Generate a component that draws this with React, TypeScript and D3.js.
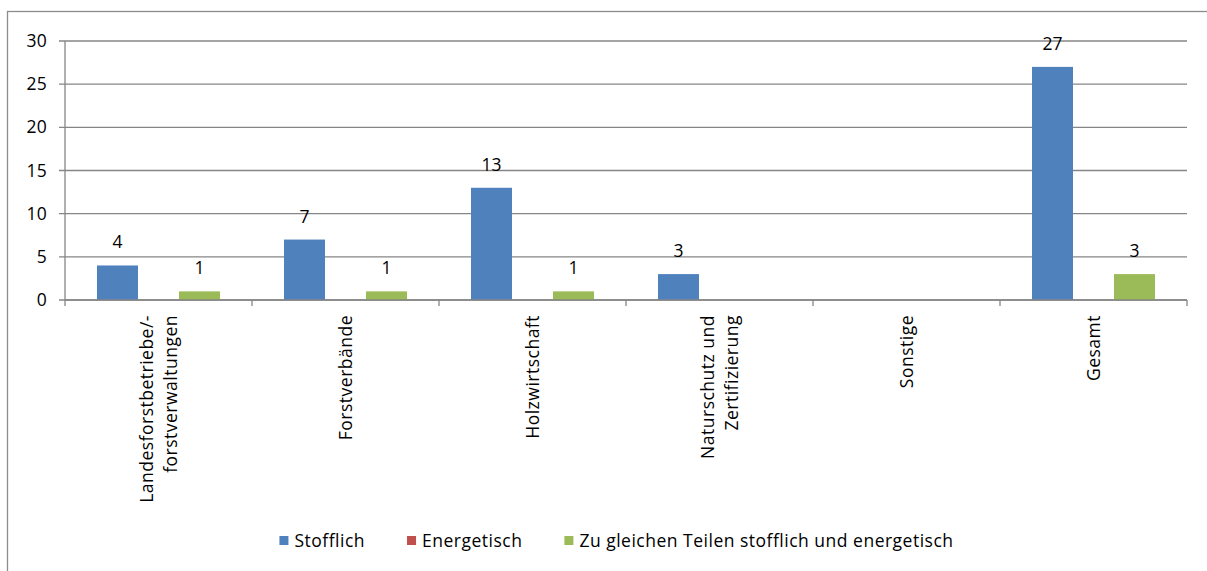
import React, { useEffect, useRef } from 'react';
import * as d3 from 'd3';

// chart data
const categories = ['Landesforstbetriebe/-|forstverwaltungen', 'Forstverbände', 'Holzwirtschaft', 'Naturschutz und|Zertifizierung', 'Sonstige', 'Gesamt'];
const seriesNames = ['Stofflich', 'Energetisch', 'Zu gleichen Teilen stofflich und energetisch'];
const seriesColors = ['#4F81BD', '#C0504D', '#9BBB59'];
const stofflich = [4, 7, 13, 3, 0, 27];
const energetisch = [0, 0, 0, 0, 0, 0];
const zuGleichen = [1, 1, 1, 0, 0, 3];
const yTicks = [0, 5, 10, 15, 20, 25, 30];

const W = 1207;
const H = 571;
const FONT = '"Open Sans", "Noto Sans", sans-serif';
const FS = '17.5px';
const LS = '0.5px';

const App = () => {
    const svgRef = useRef<SVGSVGElement>(null);

    useEffect(() => {
        const svg = d3.select(svgRef.current);
        svg.selectAll('*').remove();

        const values = [stofflich, energetisch, zuGleichen];
        const left = 65, right = 1187, top = 41, bottom = 300;

        // outer frame (right and bottom edges fall outside the picture)
        svg.append('rect')
            .attr('x', 7.5).attr('y', 11.5)
            .attr('width', W + 20).attr('height', H + 20)
            .attr('fill', 'white')
            .attr('stroke', '#8c8c8c')
            .attr('stroke-width', 1.3);

        const x0 = d3.scaleBand().domain(categories).range([left, right]).padding(0);
        const x1 = d3.scaleBand().domain(seriesNames).range([0, x0.bandwidth()]).paddingInner(0).paddingOuter(0.78);
        const y = d3.scaleLinear().domain([0, 30]).range([bottom, top]);

        const g = svg.append('g');

        // gridlines
        g.selectAll('line.grid')
            .data(yTicks)
            .enter().append('line')
            .attr('x1', left - 6).attr('x2', right)
            .attr('y1', d => y(d)).attr('y2', d => y(d))
            .attr('stroke', '#868686')
            .attr('stroke-width', 1.3);

        // y tick labels
        g.selectAll('text.ytick')
            .data(yTicks)
            .enter().append('text')
            .attr('x', 47)
            .attr('y', d => y(d))
            .attr('dy', '0.35em')
            .attr('text-anchor', 'end')
            .style('font-family', FONT)
            .style('font-size', FS)
            .style('letter-spacing', '0.3px')
            .text(d => d);

        // y axis line
        g.append('line')
            .attr('x1', left).attr('x2', left)
            .attr('y1', top).attr('y2', bottom)
            .attr('stroke', '#868686').attr('stroke-width', 1.3);

        // x tick marks at category boundaries
        const bounds = categories.map(c => x0(c)).concat([right]);
        g.selectAll('line.xtick')
            .data(bounds)
            .enter().append('line')
            .attr('x1', d => d).attr('x2', d => d)
            .attr('y1', bottom).attr('y2', bottom + 6)
            .attr('stroke', '#868686').attr('stroke-width', 1.3);

        // bars
        seriesNames.forEach((s, si) => {
            const vals = values[si];
            g.selectAll(`rect.s${si}`)
                .data(vals)
                .enter().append('rect')
                .attr('x', (d, i) => x0(categories[i]) + x1(s))
                .attr('y', d => y(d))
                .attr('width', x1.bandwidth())
                .attr('height', d => bottom - y(d))
                .attr('fill', seriesColors[si]);

            g.selectAll(`text.l${si}`)
                .data(vals.map((v, i) => ({ v, i })).filter(d => d.v > 0))
                .enter().append('text')
                .attr('x', d => x0(categories[d.i]) + x1(s) + x1.bandwidth() / 2)
                .attr('y', d => y(d.v) - 17)
                .attr('text-anchor', 'middle')
                .style('font-family', FONT)
                .style('font-size', FS)
                .text(d => d.v);
        });

        // x axis line
        g.append('line')
            .attr('x1', left).attr('x2', right)
            .attr('y1', bottom).attr('y2', bottom)
            .attr('stroke', '#868686').attr('stroke-width', 1.3);

        // rotated category labels
        categories.forEach(c => {
            const lines = c.split('|');
            const cx = x0(c) + x0.bandwidth() / 2;
            const lh = 24;
            const t = g.append('text')
                .attr('transform', `translate(${cx},315) rotate(-90)`)
                .attr('text-anchor', 'end')
                .style('font-family', FONT)
                .style('font-size', FS)
                .style('letter-spacing', LS);
            lines.forEach((ln, li) => {
                t.append('tspan')
                    .attr('x', 0)
                    .attr('y', (li - (lines.length - 1) / 2) * lh)
                    .attr('dy', '0.35em')
                    .text(ln);
            });
        });

        // legend
        const legend = svg.append('g');
        let cursor = 0;
        seriesNames.forEach((s, si) => {
            const item = legend.append('g').attr('transform', `translate(${cursor},0)`);
            item.append('rect')
                .attr('x', 0).attr('y', -5)
                .attr('width', 9).attr('height', 9)
                .attr('fill', seriesColors[si]);
            const txt = item.append('text')
                .attr('x', 15).attr('y', 0)
                .attr('dy', '0.35em')
                .style('font-family', FONT)
                .style('font-size', FS)
                .style('letter-spacing', LS)
                .text(s);
            const w = (txt.node() as SVGTextElement).getComputedTextLength();
            cursor += 15 + w + 42;
        });
        const total = cursor - 42;
        legend.attr('transform', `translate(${616.5 - total / 2},541)`);
    }, []);

    return (
        <div style={{ position: 'absolute', left: 0, top: 0 }}>
            <svg ref={svgRef} width={W} height={H} style={{ display: 'block' }}></svg>
        </div>
    );
};

export default App;
